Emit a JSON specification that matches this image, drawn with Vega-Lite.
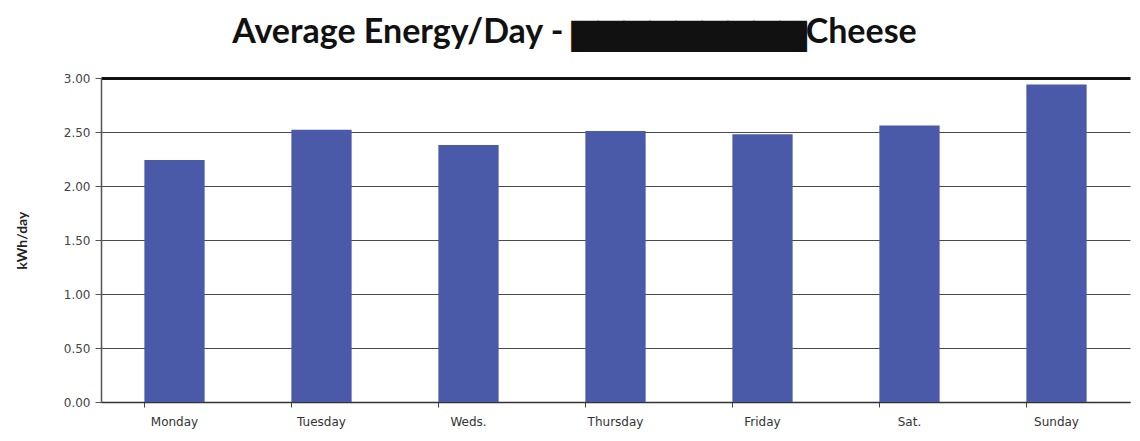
{
  "$schema": "https://vega.github.io/schema/vega-lite/v6.json",
  "autosize": "none",
  "width": 1029,
  "height": 324,
  "padding": {"left": 101, "top": 78, "right": 10, "bottom": 39},
  "background": "white",
  "title": {
    "text": "Average Energy/Day - ▆▆▆▆▆▆▆▆▆Cheese",
    "font": "Lato",
    "fontWeight": "bold",
    "fontSize": 34,
    "color": "#111111",
    "anchor": "middle",
    "dx": -41,
    "offset": 22
  },
  "data": {
    "values": [
      {"day": "Monday", "kwh": 2.24},
      {"day": "Tuesday", "kwh": 2.52},
      {"day": "Weds.", "kwh": 2.38},
      {"day": "Thursday", "kwh": 2.51},
      {"day": "Friday", "kwh": 2.48},
      {"day": "Sat.", "kwh": 2.56},
      {"day": "Sunday", "kwh": 2.94}
    ]
  },
  "config": {
    "view": {"stroke": null},
    "axis": {"labelFont": "DejaVu Sans", "titleFont": "Lato"}
  },
  "mark": {"type": "bar", "color": "#4a5aa8"},
  "encoding": {
    "x": {
      "field": "day",
      "type": "nominal",
      "sort": null,
      "scale": {"paddingInner": 0.59, "paddingOuter": 0.295},
      "axis": {
        "title": null,
        "labelAngle": 0,
        "labelFontSize": 12,
        "labelColor": "#333333",
        "labelPadding": 9,
        "bandPosition": 0,
        "ticks": true,
        "tickSize": 5,
        "tickColor": "#444444",
        "domainColor": "#333333",
        "domainWidth": 1.5
      }
    },
    "y": {
      "field": "kwh",
      "type": "quantitative",
      "scale": {"domain": [0, 3], "nice": false},
      "axis": {
        "title": "kWh/day",
        "titleFontSize": 14,
        "titleFontWeight": "bold",
        "titleColor": "#222222",
        "titlePadding": 34,
        "values": [0, 0.5, 1, 1.5, 2, 2.5, 3],
        "format": ".2f",
        "labelFontSize": 12,
        "labelColor": "#444444",
        "labelPadding": 5,
        "tickSize": 6,
        "tickColor": "#555555",
        "domainColor": "#555555",
        "domainWidth": 1.5,
        "grid": true,
        "gridColor": {"condition": {"test": "datum.value === 3", "value": "#111111"}, "value": "#4a4a4a"},
        "gridWidth": {"condition": {"test": "datum.value === 3", "value": 3}, "value": 1}
      }
    }
  }
}
